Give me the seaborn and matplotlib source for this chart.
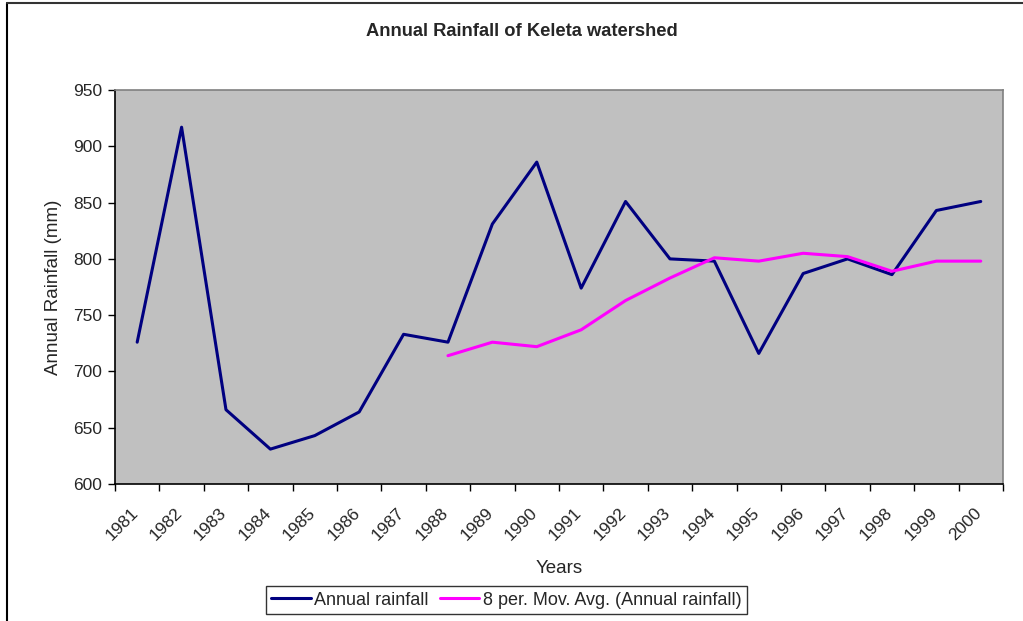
import pandas as pd
import seaborn as sns
import matplotlib.pyplot as plt
import matplotlib.transforms as mtransforms
from matplotlib.lines import Line2D

# Values
years = [1981, 1982, 1983, 1984, 1985, 1986, 1987, 1988, 1989, 1990,
         1991, 1992, 1993, 1994, 1995, 1996, 1997, 1998, 1999, 2000]
rainfall = [726, 917, 666, 631, 643, 664, 733, 726, 831, 886,
            774, 851, 800, 798, 716, 787, 800, 786, 843, 851]
mov_avg_years = [1988, 1989, 1990, 1991, 1992, 1993, 1994,
                 1995, 1996, 1997, 1998, 1999, 2000]
mov_avg = [714, 726, 722, 737, 763, 783, 801, 798, 805, 802, 789, 798, 798]

df = pd.DataFrame({'pos': range(len(years)), 'rain': rainfall})
ma = pd.DataFrame({'pos': [years.index(y) for y in mov_avg_years], 'avg': mov_avg})

sns.set_style('white')
plt.rcParams['font.family'] = ['Liberation Sans', 'DejaVu Sans']

fig = plt.figure(figsize=(10.23, 6.21), dpi=100)
ax = fig.add_axes([0.1124, 0.2206, 0.868, 0.6344])
ax.set_facecolor('#C0C0C0')

sns.lineplot(data=df, x='pos', y='rain', color='#000080', linewidth=2.2,
             label='Annual rainfall', ax=ax)
sns.lineplot(data=ma, x='pos', y='avg', color='#FF00FF', linewidth=2.2,
             label='8 per. Mov. Avg. (Annual rainfall)', ax=ax)

ax.set_xlim(-0.5, len(years) - 0.5)
ax.set_ylim(600, 950)
ax.set_yticks(range(600, 951, 50))
ax.set_xticks(range(len(years)))
ax.set_xticklabels([str(y) for y in years], rotation=45, ha='right',
                   rotation_mode='anchor', fontsize=12.5)
ax.set_xticks([i - 0.5 for i in range(len(years) + 1)], minor=True)
ax.tick_params(axis='x', which='major', length=0, pad=15)
ax.tick_params(axis='x', which='minor', length=5, width=1, color='black', direction='out', bottom=True)
ax.tick_params(axis='y', length=5, width=1, color='black', direction='out', left=True,
               labelsize=12.5, pad=4)

# nudge the rotated year labels a little to the left, as in the reference
shift = mtransforms.ScaledTranslation(-7 / 100, 0, fig.dpi_scale_trans)
for lbl in ax.get_xticklabels():
    lbl.set_transform(lbl.get_transform() + shift)

for side in ['left', 'bottom']:
    ax.spines[side].set_color('black')
    ax.spines[side].set_linewidth(1.2)
for side in ['top', 'right']:
    ax.spines[side].set_color('#808080')
    ax.spines[side].set_linewidth(1.2)

ax.set_xlabel('Years', fontsize=13.5, labelpad=12)
ax.set_ylabel('Annual Rainfall (mm)', fontsize=13.5, labelpad=8)
fig.text(0.51, 0.95, 'Annual Rainfall of Keleta watershed', ha='center', va='center',
         fontsize=13.2, fontweight='bold')

leg = ax.legend(loc='center', bbox_to_anchor=(0.495, 0.0338), bbox_transform=fig.transFigure,
                ncol=2, frameon=True, fancybox=False, fontsize=13, handlelength=2.2,
                handletextpad=0.2, columnspacing=0.6, borderpad=0.3)
leg.get_frame().set_edgecolor('black')
leg.get_frame().set_linewidth(1.0)

# chart-area frame: only its top and left edges fall inside the image
fig.add_artist(Line2D([6.5 / 1023, 6.5 / 1023], [0, 1 - 2.5 / 621], color='black', linewidth=1.5))
fig.add_artist(Line2D([6.5 / 1023, 1], [1 - 2.5 / 621, 1 - 2.5 / 621], color='#333333', linewidth=1.5))

plt.savefig('out.png', dpi=100)
